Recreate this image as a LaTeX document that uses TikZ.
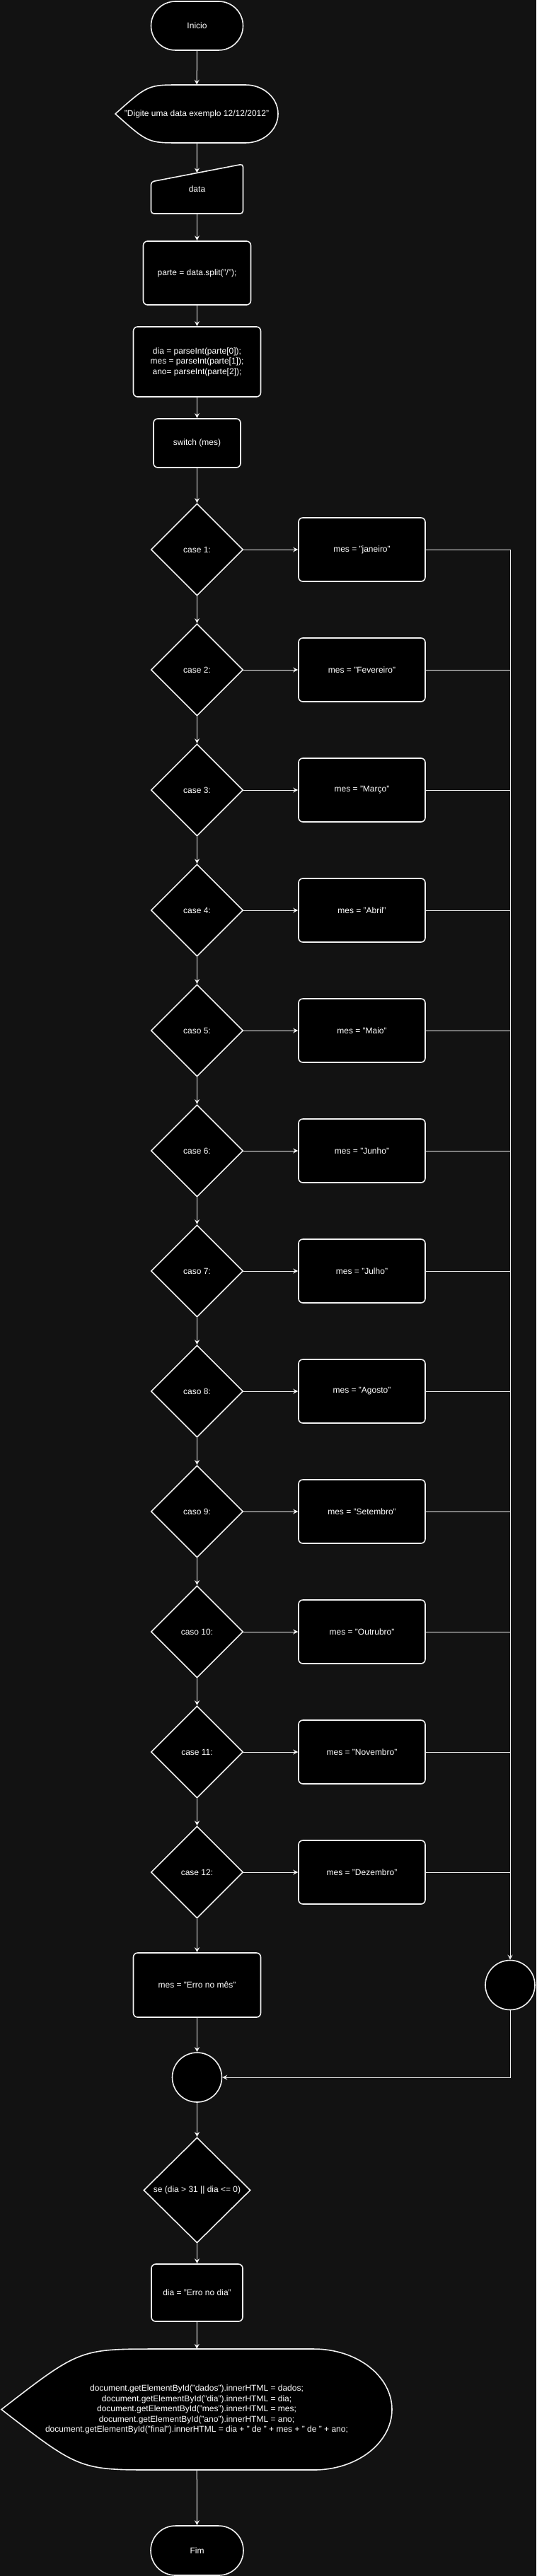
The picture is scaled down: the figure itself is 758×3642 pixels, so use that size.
\documentclass[tikz,border=0pt]{standalone}
\usepackage{fontspec}
\setmainfont{Liberation Sans}
\usetikzlibrary{shapes.geometric,shapes.misc,arrows.meta}
\definecolor{bgcol}{RGB}{18,18,18}
\definecolor{edgecol}{RGB}{240,240,240}
\tikzset{
  shp/.style={draw=edgecol, fill=black, line width=1.6pt, text=white, inner sep=0pt,
    align=center, font=\fontsize{12}{14.4}\selectfont},
  term/.style={shp, rounded rectangle, minimum width=130pt, minimum height=69pt},
  box/.style={shp, rectangle, rounded corners=6pt},
  casebox/.style={shp, diamond, minimum width=130pt, minimum height=130pt},
  joint/.style={shp, circle, minimum size=70pt},
  label/.style={text=white, inner sep=0pt, align=center, font=\fontsize{12}{14.4}\selectfont},
  outline/.style={draw=edgecol, fill=black, line width=1.6pt},
  arr/.style={draw=edgecol, line width=1pt, -{Stealth[length=7pt,width=7pt,inset=2.5pt]}},
  ln/.style={draw=edgecol, line width=1pt},
}
% display shape: name, x, y, width, height, text
\newcommand\dispnode[6]{%
  \filldraw[outline] ({#2-#4/2},#3) .. controls ({#2-0.3*#4},{#3-#5/2}) .. ({#2-0.1*#4},{#3-#5/2})
    -- ({#2+0.3*#4},{#3-#5/2}) arc[start angle=-90, end angle=90, x radius={0.2*#4}, y radius={#5/2}]
    -- ({#2-0.1*#4},{#3+#5/2}) .. controls ({#2-0.3*#4},{#3+#5/2}) .. ({#2-#4/2},#3) -- cycle;
  \node[label, minimum width=#4pt, minimum height=#5pt] (#1) at (#2,#3) {#6};
}
\begin{document}
\begin{tikzpicture}[x=1pt, y=-1pt]
  \fill[bgcol] (0,0) rectangle (758,3642);
  \useasboundingbox (0,0) rectangle (758,3642);

  \node[term] (inicio) at (278.5,36.5) {Inicio};
  \dispnode{msg}{278}{161}{230}{82}{"Digite uma data exemplo 12/12/2012"}
  % manual input
  \filldraw[outline, rounded corners=4pt] (213.5,257) -- (343.5,232) -- (343.5,302) -- (213.5,302) -- cycle;
  \node[label, minimum width=130pt, minimum height=70pt] (data) at (278.5,267) {data};
  \coordinate (datain) at (278.5,244.5);
  \node[box, minimum width=152pt, minimum height=90pt] (parte) at (278.5,386) {parte = data.split("/");};
  \node[box, minimum width=180pt, minimum height=99pt] (parse) at (278.5,511.5)
    {dia = parseInt(parte[0]);\\ mes = parseInt(parte[1]);\\ ano= parseInt(parte[2]);};
  \node[box, minimum width=123pt, minimum height=69pt] (switch) at (278.5,626.5) {switch (mes)};

  \draw[arr] (inicio) -- (msg);
  \draw[arr] (msg) -- (datain);
  \draw[arr] (data) -- (parte);
  \draw[arr] (parte) -- (parse);
  \draw[arr] (parse) -- (switch);

  \node[joint] (rc) at (721,2806.5) {};
  \foreach \i/\w/\m in {1/case/janeiro, 2/case/Fevereiro, 3/case/Março, 4/case/Abril,
      5/caso/Maio, 6/case/Junho, 7/caso/Julho, 8/caso/Agosto, 9/caso/Setembro,
      10/caso/Outrubro, 11/case/Novembro, 12/case/Dezembro}{%
    \node[casebox] (c\i) at (278.5,{777+170*(\i-1)}) {\w{} \i:};
    \node[box, minimum width=179pt, minimum height=90pt] (m\i) at (511.5,{777+170*(\i-1)}) {mes = "\m"};
    \draw[arr] (c\i) -- (m\i);
    \draw[ln] (m\i.east) -- (m\i.east -| rc.north);
  }
  \draw[arr] (switch) -- (c1);
  \foreach \i [evaluate=\i as \j using int(\i+1)] in {1,...,11}{%
    \draw[arr] (c\i) -- (c\j);
  }
  \draw[arr] (m1.east) -| (rc.north);

  \node[box, minimum width=180pt, minimum height=91pt] (erro) at (278.5,2806.5) {mes = "Erro no mês"};
  \node[joint] (join) at (278.5,2937) {};
  \node[shp, diamond, minimum width=151pt, minimum height=149pt] (se) at (278.5,3096.5)
    {se (dia > 31 || dia <= 0)};
  \node[box, minimum width=129pt, minimum height=81pt] (diaerro) at (278.5,3241.5) {dia = "Erro no dia"};
  \dispnode{out}{278}{3406.5}{552}{171}{document.getElementById("dados").innerHTML = dados;\\
    document.getElementById("dia").innerHTML = dia;\\
    document.getElementById("mes").innerHTML = mes;\\
    document.getElementById("ano").innerHTML = ano;\\
    document.getElementById("final").innerHTML = dia + " de " + mes + " de " + ano;}
  \node[term, minimum width=131pt, minimum height=70pt] (fim) at (278.5,3606) {Fim};

  \draw[arr] (c12) -- (erro);
  \draw[arr] (erro) -- (join);
  \draw[arr] (rc.south) |- (join.east);
  \draw[arr] (join) -- (se);
  \draw[arr] (se) -- (diaerro);
  \draw[arr] (diaerro) -- (out);
  \draw[arr] (out) -- (fim);
\end{tikzpicture}
\end{document}
